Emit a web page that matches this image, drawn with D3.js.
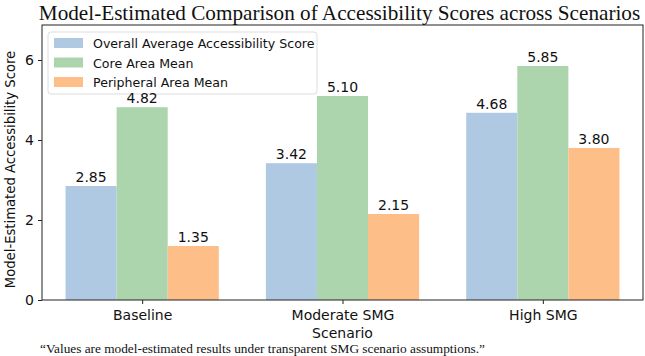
<!DOCTYPE html>
<html>
<head>
<meta charset="utf-8">
<script src="https://cdn.jsdelivr.net/npm/d3@7"></script>
<style>
  html, body { margin: 0; padding: 0; background: #fff; }
  svg { display: block; }
</style>
</head>
<body>
<svg id="chart" width="645" height="356"></svg>
<script>
// Scenario categories and the three score series
const categories = ["Baseline", "Moderate SMG", "High SMG"];
const seriesNames = ["Overall Average Accessibility Score", "Core Area Mean", "Peripheral Area Mean"];
const overallScores = [2.85, 3.42, 4.68];
const coreScores = [4.82, 5.10, 5.85];
const peripheralScores = [1.35, 2.15, 3.80];
const yTicks = [0, 2, 4, 6];
const seriesColors = ["#afc9e3", "#add5ad", "#fdbe88"];

const series = [overallScores, coreScores, peripheralScores];

const W = 645, H = 356;
const margin = { top: 25, right: 2, bottom: 56, left: 42 };
const plotW = W - margin.left - margin.right;
const plotH = H - margin.top - margin.bottom;

const svg = d3.select("#chart");
const g = svg.append("g").attr("transform", `translate(${margin.left},${margin.top})`);

// Group positions run from -0.5 to n-0.5 across the plot width
const x = d3.scaleLinear().domain([-0.5, categories.length - 0.5]).range([0, plotW]);
const y = d3.scaleLinear().domain([0, 6.875]).range([plotH, 0]);
const barW = 0.255;

// Legend (drawn beneath the value labels)
const legend = g.append("g").attr("transform", "translate(6,7)");
legend.append("rect")
  .attr("width", 269).attr("height", 62)
  .attr("rx", 3)
  .attr("fill", "#fff")
  .attr("fill-opacity", 0.85)
  .attr("stroke", "#ddd");
seriesNames.forEach((name, i) => {
  const row = legend.append("g").attr("transform", `translate(6,${11 + i * 19.5})`);
  row.append("rect").attr("x", 0).attr("y", -5).attr("width", 29).attr("height", 10).attr("fill", seriesColors[i]);
  row.append("text")
    .attr("x", 39).attr("y", 5)
    .attr("font-family", "DejaVu Sans")
    .attr("font-size", 12.6)
    .attr("fill", "#111")
    .text(name);
});

// Bars and their value labels
series.forEach((vals, si) => {
  g.selectAll(null)
    .data(vals)
    .enter()
    .append("rect")
    .attr("x", (d, i) => x(i + (si - 1) * barW - barW / 2))
    .attr("y", d => y(d))
    .attr("width", x(barW) - x(0))
    .attr("height", d => y(0) - y(d))
    .attr("fill", seriesColors[si]);

  g.selectAll(null)
    .data(vals)
    .enter()
    .append("text")
    .attr("x", (d, i) => x(i + (si - 1) * barW))
    .attr("y", d => y(d) - 4)
    .attr("text-anchor", "middle")
    .attr("font-family", "DejaVu Sans")
    .attr("font-size", 14)
    .attr("fill", "#111")
    .text(d => d.toFixed(2));
});

// Axes
const yAxis = g.append("g")
  .call(d3.axisLeft(y).tickValues(yTicks).tickFormat(d3.format("d")).tickSize(4).tickPadding(4));
const xAxis = g.append("g")
  .attr("transform", `translate(0,${plotH})`)
  .call(d3.axisBottom(x).tickValues(d3.range(categories.length)).tickFormat(i => categories[i]).tickSize(4).tickPadding(6));

[yAxis, xAxis].forEach(ax => {
  ax.select(".domain").remove();
  ax.selectAll("line").attr("stroke", "#222");
  ax.selectAll("text").attr("font-family", "DejaVu Sans").attr("font-size", 14).attr("fill", "#111");
});

// Frame around the plot area
g.append("rect")
  .attr("x", 0).attr("y", 0)
  .attr("width", plotW).attr("height", plotH)
  .attr("fill", "none")
  .attr("stroke", "#222")
  .attr("stroke-width", 1);

// Axis titles
g.append("text")
  .attr("transform", `translate(${-27},${plotH / 2 + 7}) rotate(-90)`)
  .attr("text-anchor", "middle")
  .attr("font-family", "DejaVu Sans")
  .attr("font-size", 13.2)
  .attr("fill", "#111")
  .text("Model-Estimated Accessibility Score");

g.append("text")
  .attr("x", plotW / 2)
  .attr("y", plotH + 38)
  .attr("text-anchor", "middle")
  .attr("font-family", "DejaVu Sans")
  .attr("font-size", 14)
  .attr("fill", "#111")
  .text("Scenario");

// Title
svg.append("text")
  .attr("x", margin.left + plotW / 2 - 3)
  .attr("y", 20)
  .attr("text-anchor", "middle")
  .attr("font-family", "Liberation Serif")
  .attr("font-size", 21.2)
  .attr("fill", "#111")
  .text("Model-Estimated Comparison of Accessibility Scores across Scenarios");

// Footnote
svg.append("text")
  .attr("x", 40)
  .attr("y", 353)
  .attr("font-family", "Liberation Serif")
  .attr("font-size", 13.3)
  .attr("fill", "#111")
  .text("\u201CValues are model-estimated results under transparent SMG scenario assumptions.\u201D");
</script>
</body>
</html>
